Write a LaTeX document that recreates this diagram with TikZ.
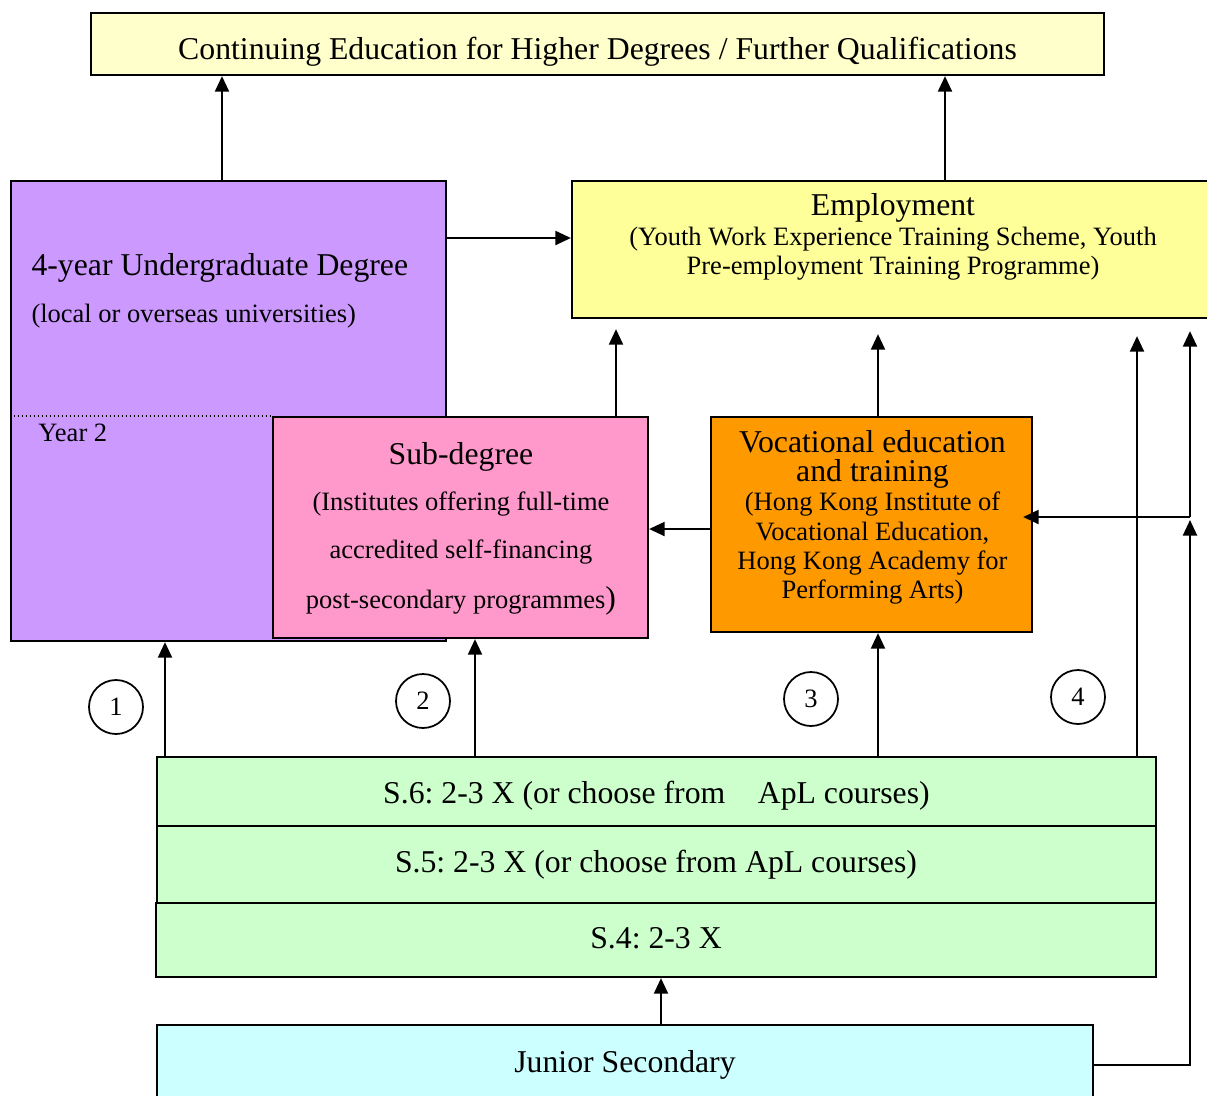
\documentclass[tikz,border=0pt]{standalone}
\usepackage{fontspec}
\setmainfont{Liberation Serif}
\usepackage{tikz}
\usetikzlibrary{arrows.meta}
\frenchspacing

\definecolor{topyellow}{HTML}{FFFFCC}
\definecolor{empyellow}{HTML}{FFFF99}
\definecolor{ugpurple}{HTML}{CC99FF}
\definecolor{subpink}{HTML}{FF99CC}
\definecolor{vocorange}{HTML}{FF9900}
\definecolor{secgreen}{HTML}{CCFFCC}
\definecolor{jscyan}{HTML}{CCFFFF}

\newcommand{\bigtxt}{\fontsize{12.7}{15}\selectfont}
\newcommand{\smalltxt}{\fontsize{10.6}{12}\selectfont}

\tikzset{
  box/.style={draw, line width=0.9pt, inner sep=0pt, rectangle},
  arr/.style={line width=0.8pt, -{Triangle[length=6.2pt,width=5.6pt]}},
  lbl/.style={anchor=base, inner sep=0pt, font=\bigtxt},
  sublbl/.style={anchor=base, inner sep=0pt, font=\smalltxt},
  numcirc/.style={draw, circle, line width=0.7pt, minimum size=21.6pt, inner sep=0pt, font=\smalltxt}
}

\begin{document}
\begin{tikzpicture}[x=0.4pt,y=-0.4pt]
\useasboundingbox (0,0) rectangle (1207,1095);
\clip (0,0) rectangle (1207,1095);

% boxes
\node[box, fill=topyellow, minimum width=405.2pt, minimum height=24.8pt] (top) at (597.5,44) {};
\node[box, fill=ugpurple, minimum width=174pt, minimum height=184pt] (ug) at (228.5,411) {};
\node[box, fill=subpink, minimum width=150pt, minimum height=88.4pt] (sub) at (460.5,527.5) {};
\draw[densely dotted, line width=0.6pt] (ug.west |- sub.north) -- (sub.north west);
\node[box, fill=empyellow, minimum width=257.2pt, minimum height=54.8pt] (emp) at (893.5,249.5) {};
\node[box, fill=vocorange, minimum width=128.4pt, minimum height=86pt] (voc) at (871.5,524.5) {};
\node[box, fill=secgreen, minimum width=399.6pt, minimum height=27.6pt] (s6) at (656.5,791.5) {};
\node[box, fill=secgreen, minimum width=399.6pt, minimum height=30.8pt] (s5) at (656.5,864.5) {};
\node[box, fill=secgreen, minimum width=400pt, minimum height=29.6pt] (s4) at (656,940) {};
\node[box, fill=jscyan, minimum width=374.4pt, minimum height=32pt] (js) at (625,1065) {};

% texts
\node[lbl] (toptxt) at (597.5,59) {Continuing Education for Higher Degrees / Further Qualifications};
\node[lbl, anchor=base west] (ugtxt) at (31,275) {4-year Undergraduate Degree};
\node[sublbl, anchor=base west] (ugsub) at (31,322) {(local or overseas universities)};
\node[sublbl, anchor=base west] (yeartxt) at (38,441) {Year 2};
\node[lbl] (subtxt) at (461,464) {Sub-degree};
\node[sublbl] (subl1) at (461,510) {(Institutes offering full-time};
\node[sublbl] (subl2) at (461,558) {accredited self-financing};
\node[sublbl] (subl3) at (461,608) {post-secondary programmes{\bigtxt)}};
\node[lbl] (emptxt) at (893,215) {Employment};
\node[sublbl] (empl1) at (893,245) {(Youth Work Experience Training Scheme, Youth};
\node[sublbl] (empl2) at (893,274) {Pre-employment Training Programme)};
\node[lbl] (voctxt1) at (872.5,452) {Vocational education};
\node[lbl] (voctxt2) at (872.5,481) {and training};
\node[sublbl] (vocl1) at (872.5,510) {(Hong Kong Institute of};
\node[sublbl] (vocl2) at (872.5,540) {Vocational Education,};
\node[sublbl] (vocl3) at (872.5,569) {Hong Kong Academy for};
\node[sublbl] (vocl4) at (872.5,598) {Performing Arts)};
\node[lbl] (s6txt) at (656.5,803) {S.6: 2-3 X (or choose from\hspace{13pt}ApL courses)};
\node[lbl] (s5txt) at (656,872) {S.5: 2-3 X (or choose from ApL courses)};
\node[lbl] (s4txt) at (656,948) {S.4: 2-3 X};
\node[lbl] (jstxt) at (625,1072) {Junior Secondary};

% route numbers
\node[numcirc] (c1) at (116,707) {1};
\node[numcirc] (c2) at (423,701) {2};
\node[numcirc] (c3) at (811,699) {3};
\node[numcirc] (c4) at (1078,697) {4};

% arrows
\coordinate (up1) at (222,0);
\coordinate (up2) at (945,0);
\coordinate (up3) at (616,0);
\coordinate (up4) at (878,0);
\coordinate (up5) at (1137,0);
\coordinate (p1) at (165,0);
\coordinate (p2) at (475,0);
\coordinate (p3) at (661,0);
\coordinate (rt1) at (0,238);
\coordinate (rt2) at (0,529);
\coordinate (jn) at (1190,517);

\draw[arr] (ug.north -| up1) -- (top.south -| up1);
\draw[arr] (emp.north -| up2) -- (top.south -| up2);
\draw[arr] (ug.east |- rt1) -- (emp.west |- rt1);
\draw[arr, shorten >=4pt] (sub.north -| up3) -- (emp.south -| up3);
\draw[arr, shorten >=6pt] (voc.north -| up4) -- (emp.south -| up4);
\draw[arr, shorten >=6.8pt] (s6.north -| up5) -- (emp.south -| up5);
\draw[arr] (voc.west |- rt2) -- (sub.east |- rt2);
\draw[arr] (s6.north -| p1) -- (ug.south -| p1);
\draw[arr] (s6.north -| p2) -- (sub.south -| p2);
\draw[arr] (s6.north -| up4) -- (voc.south -| up4);
\draw[arr] (js.north -| p3) -- (s4.south -| p3);
\draw[arr] (js.east) -| ([yshift=-1.2pt]jn);
\draw[arr, shorten >=-4pt] (jn) -- (voc.east |- jn);
\draw[arr, shorten >=4.8pt] (jn) -- (emp.south -| jn);
\end{tikzpicture}
\end{document}
